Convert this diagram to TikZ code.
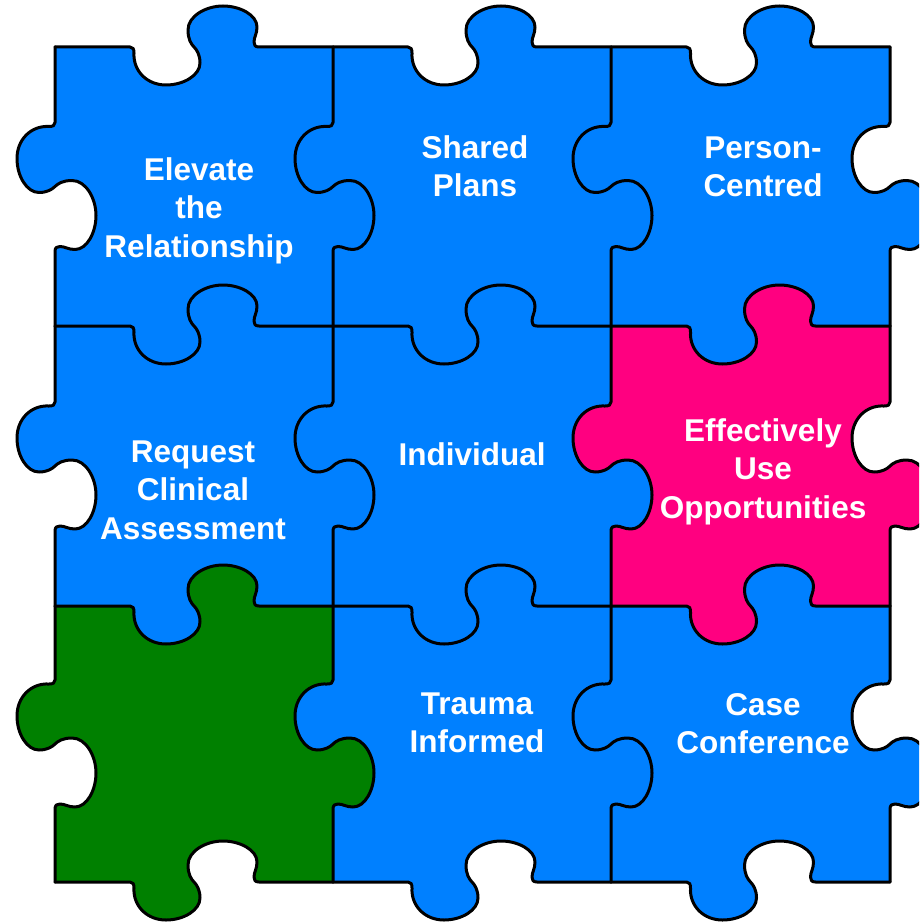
\documentclass[tikz,border=0pt]{standalone}
\usepackage{fontspec}
\setmainfont{Liberation Sans}
\definecolor{pblue}{RGB}{0,128,255}
\definecolor{ppink}{RGB}{255,0,128}
\definecolor{pgreen}{RGB}{0,128,0}
\newcommand\bumpArest{.. controls (-61,0) and (-60,2) .. (-60,6) .. controls (-61,24) and (-47,38) .. (-28,38) .. controls (-10,38) and (6,28) .. (6,16) .. controls (6,8) and (3,3) .. (0,0)}
\newcommand\bumpBrest{.. controls (-3,-3) and (-6,-8) .. (-6,-17) .. controls (-6,-31) and (12,-41) .. (29,-41) .. controls (46,-41) and (63,-32) .. (63,-20) .. controls (63,-13) and (60,-10) .. (60,-5) .. controls (60,-2) and (61,0) .. (65,0)}
\tikzset{
  hedge/.style 2 args={shift={(#1pt,-#2pt)},x={(1pt,0pt)},y={(0pt,-1pt)}},
  vedge/.style 2 args={shift={(#1pt,-#2pt)},x={(0pt,-1pt)},y={(-1pt,0pt)}},
  pzline/.style={draw=black,line width=3pt,line cap=round,line join=round},
  lbl/.style={text=white,font=\fontsize{31.5}{38.5}\selectfont\bfseries,align=center,inner sep=0pt}
}
\newcommand\jfill[5]{\begin{scope}[#1={#2}{#3}]
 \fill[#4] (-64,0) \bumpArest -- (0,-1) -- (-64,-1) -- cycle;
 \fill[#5] (0,0) \bumpBrest -- (65,1) -- (0,1) -- cycle;
\end{scope}}
\newcommand\jdraw[4]{\begin{scope}[#1={#2}{#3}]
 \draw[pzline] (-#4,0) -- (-64,0) \bumpArest \bumpBrest -- (#4,0);
\end{scope}}
\begin{document}
\begin{tikzpicture}[x=1pt,y=-1pt]
\useasboundingbox (0,0) rectangle (919,923);
\fill[white] (0,0) rectangle (919,923);
\clip (0,0) rectangle (919,923);
% cells
\fill[pblue] (55,47) rectangle (333,326);
\fill[pblue] (333,47) rectangle (611,326);
\fill[pblue] (611,47) rectangle (890,326);
\fill[pblue] (55,326) rectangle (333,606);
\fill[pblue] (333,326) rectangle (611,606);
\fill[ppink] (611,326) rectangle (890,606);
\fill[pgreen] (55,606) rectangle (333,882);
\fill[pblue] (333,606) rectangle (611,882);
\fill[pblue] (611,606) rectangle (890,882);
% knobs and sockets
\jfill{hedge}{194}{47}{white}{pblue}
\jfill{hedge}{472}{47}{white}{pblue}
\jfill{hedge}{750.5}{47}{white}{pblue}
\jfill{hedge}{194}{326}{pblue}{pblue}
\jfill{hedge}{472}{326}{pblue}{pblue}
\jfill{hedge}{750.5}{326}{pblue}{ppink}
\jfill{hedge}{194}{606}{pblue}{pgreen}
\jfill{hedge}{472}{606}{pblue}{pblue}
\jfill{hedge}{750.5}{606}{ppink}{pblue}
\jfill{hedge}{194}{882}{pgreen}{white}
\jfill{hedge}{472}{882}{pblue}{white}
\jfill{hedge}{750.5}{882}{pblue}{white}
\jfill{vedge}{55}{186.5}{pblue}{white}
\jfill{vedge}{55}{466}{pblue}{white}
\jfill{vedge}{55}{744}{pgreen}{white}
\jfill{vedge}{333}{186.5}{pblue}{pblue}
\jfill{vedge}{333}{466}{pblue}{pblue}
\jfill{vedge}{333}{744}{pblue}{pgreen}
\jfill{vedge}{611}{186.5}{pblue}{pblue}
\jfill{vedge}{611}{466}{ppink}{pblue}
\jfill{vedge}{611}{744}{pblue}{pblue}
\jfill{vedge}{890}{186.5}{white}{pblue}
\jfill{vedge}{890}{466}{white}{ppink}
\jfill{vedge}{890}{744}{white}{pblue}
% outlines
\jdraw{hedge}{194}{47}{139}
\jdraw{hedge}{472}{47}{139}
\jdraw{hedge}{750.5}{47}{139.5}
\jdraw{hedge}{194}{326}{139}
\jdraw{hedge}{472}{326}{139}
\jdraw{hedge}{750.5}{326}{139.5}
\jdraw{hedge}{194}{606}{139}
\jdraw{hedge}{472}{606}{139}
\jdraw{hedge}{750.5}{606}{139.5}
\jdraw{hedge}{194}{882}{139}
\jdraw{hedge}{472}{882}{139}
\jdraw{hedge}{750.5}{882}{139.5}
\jdraw{vedge}{55}{186.5}{139.5}
\jdraw{vedge}{55}{466}{140}
\jdraw{vedge}{55}{744}{138}
\jdraw{vedge}{333}{186.5}{139.5}
\jdraw{vedge}{333}{466}{140}
\jdraw{vedge}{333}{744}{138}
\jdraw{vedge}{611}{186.5}{139.5}
\jdraw{vedge}{611}{466}{140}
\jdraw{vedge}{611}{744}{138}
\jdraw{vedge}{890}{186.5}{139.5}
\jdraw{vedge}{890}{466}{140}
\jdraw{vedge}{890}{744}{138}
% labels
\node[lbl] (t11) at (199,211) {\strut Elevate\\\strut the\\\strut Relationship};
\node[lbl] (t12) at (475,170) {\strut Shared\\\strut Plans};
\node[lbl] (t13) at (763,170) {\strut Person-\\\strut Centred};
\node[lbl] (t21) at (193,493) {\strut Request\\\strut Clinical\\\strut Assessment};
\node[lbl] (t22) at (472,458) {\strut Individual};
\node[lbl] (t23) at (763,472) {\strut Effectively\\\strut Use\\\strut Opportunities};
\node[lbl] (t32) at (477,726) {\strut Trauma\\\strut Informed};
\node[lbl] (t33) at (763,727) {\strut Case\\\strut Conference};
\end{tikzpicture}
\end{document}
